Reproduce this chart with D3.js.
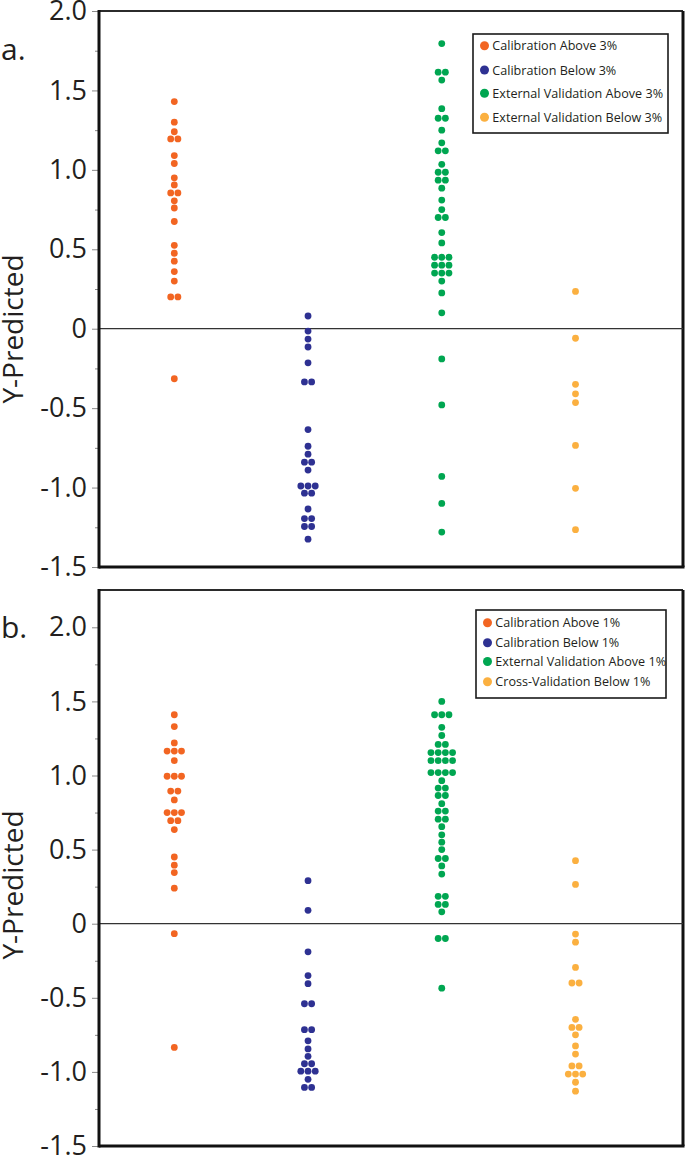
<!DOCTYPE html>
<html><head><meta charset="utf-8">
<script src="https://cdn.jsdelivr.net/npm/d3@7/dist/d3.min.js"></script>
<style>
body{margin:0;background:#fff}
text{font-family:"Open Sans","Noto Sans",sans-serif;fill:#231f20}
</style>
</head><body>
<svg id="chart" width="685" height="1157"></svg>
<script>
// ---------- data ----------
const categories = ["Calibration Above","Calibration Below","External Validation Above","Validation Below"];
const colors = ["#F26522","#2E3192","#00A651","#FBB040"];
const legendA = ["Calibration Above 3%","Calibration Below 3%","External Validation Above 3%","External Validation Below 3%"];
const legendB = ["Calibration Above 1%","Calibration Below 1%","External Validation Above 1%","Cross-Validation Below 1%"];
const tickValues = [2.0,1.5,1.0,0.5,0,-0.5,-1.0,-1.5];
const tickLabels = ["2.0","1.5","1.0","0.5","0","-0.5","-1.0","-1.5"];
const minorTicks = [1.75,1.25,0.75,0.25,-0.25,-0.75,-1.25];
const yTitle = "Y-Predicted";

// panel a (3% threshold)
const a_calAbove = [1.43,1.30,1.24,1.195,1.195,1.09,1.04,0.95,0.905,0.855,0.855,0.805,0.76,0.675,0.525,0.475,0.425,0.36,0.30,0.20,0.20,-0.315];
const a_calBelow = [0.08,-0.015,-0.065,-0.115,-0.215,-0.335,-0.335,-0.635,-0.74,-0.79,-0.84,-0.84,-0.89,-0.99,-0.99,-0.99,-1.035,-1.035,-1.135,-1.195,-1.195,-1.245,-1.245,-1.325];
const a_extAbove = [1.795,1.615,1.615,1.565,1.385,1.325,1.325,1.25,1.17,1.12,1.12,1.035,0.985,0.985,0.935,0.935,0.885,0.81,0.75,0.70,0.70,0.605,0.54,0.45,0.45,0.45,0.40,0.40,0.40,0.35,0.35,0.35,0.30,0.225,0.10,-0.19,-0.48,-0.93,-1.10,-1.28];
const a_extBelow = [0.235,-0.06,-0.35,-0.41,-0.465,-0.735,-1.005,-1.265];

// panel b (1% threshold)
const b_calAbove = [1.41,1.33,1.22,1.165,1.165,1.165,1.10,0.995,0.995,0.995,0.895,0.895,0.835,0.75,0.75,0.75,0.695,0.695,0.635,0.45,0.395,0.345,0.24,-0.067,-0.835];
const b_calBelow = [0.29,0.09,-0.19,-0.35,-0.405,-0.54,-0.54,-0.715,-0.715,-0.79,-0.845,-0.895,-0.945,-0.945,-0.995,-0.995,-0.995,-1.05,-1.105,-1.105];
const b_extAbove = [1.50,1.41,1.41,1.41,1.325,1.27,1.21,1.21,1.155,1.155,1.155,1.155,1.10,1.10,1.10,1.10,1.02,1.02,1.02,1.02,0.965,0.915,0.915,0.865,0.865,0.81,0.76,0.76,0.705,0.705,0.655,0.60,0.55,0.50,0.44,0.44,0.39,0.335,0.185,0.185,0.13,0.13,0.08,-0.10,-0.10,-0.435];
const b_cvBelow = [0.425,0.265,-0.07,-0.125,-0.295,-0.40,-0.40,-0.645,-0.70,-0.70,-0.75,-0.825,-0.88,-0.96,-0.96,-1.015,-1.015,-1.015,-1.07,-1.13];

// ---------- layout ----------
const svg = d3.select("#chart");
svg.append("rect").attr("width",685).attr("height",1157).attr("fill","#fff");

const xLeft = 99, xRight = 683;
const x = d3.scalePoint().domain(categories).range([174.3, 575.5]);
const R = 3.4, SP = 7.2;

const panels = [
  {label:"a.", labelY:60, series:[a_calAbove,a_calBelow,a_extAbove,a_extBelow], legend:legendA,
   yRange:[567,11], boxTop:11, titleY:329,
   legBox:[473,34,668,133], legRows:[45.7,70,93.3,117.3]},
  {label:"b.", labelY:638, series:[b_calAbove,b_calBelow,b_extAbove,b_cvBelow], legend:legendB,
   yRange:[1146,627.3], boxTop:590, titleY:885,
   legBox:[476,610,666,698], legRows:[622.7,642.7,661.5,681.7]}
];

panels.forEach(p => {
  const y = d3.scaleLinear().domain([-1.5,2.0]).range(p.yRange);
  const g = svg.append("g");
  const yBottom = y(-1.5);

  // frame: top & right
  g.append("line").attr("x1",xLeft).attr("x2",xRight).attr("y1",p.boxTop).attr("y2",p.boxTop)
    .attr("stroke","#2b2b2b").attr("stroke-width",2);
  g.append("line").attr("x1",xRight).attr("x2",xRight).attr("y1",p.boxTop).attr("y2",yBottom)
    .attr("stroke","#111").attr("stroke-width",3);
  // zero line
  g.append("line").attr("x1",xLeft).attr("x2",xRight).attr("y1",y(0)).attr("y2",y(0))
    .attr("stroke","#333").attr("stroke-width",1.3);

  // minor ticks
  const minor = g.append("g").attr("transform",`translate(${xLeft},0)`)
    .call(d3.axisLeft(y).tickValues(minorTicks).tickSize(4).tickFormat(""));
  minor.select(".domain").remove();
  minor.selectAll(".tick line").attr("stroke","#8a8a8a").attr("stroke-width",1);

  // major ticks + labels
  const major = g.append("g").attr("transform",`translate(${xLeft},0)`)
    .call(d3.axisLeft(y).tickValues(tickValues).tickSize(7).tickPadding(5)
      .tickFormat((d,i) => tickLabels[i]));
  major.select(".domain").remove();
  major.selectAll(".tick line").attr("stroke","#8a8a8a").attr("stroke-width",1);
  major.selectAll(".tick text").attr("font-size",27).attr("font-family","'Open Sans',sans-serif")
    .attr("fill","#231f20");

  // axis lines (left, bottom)
  g.append("line").attr("x1",xLeft).attr("x2",xLeft).attr("y1",p.boxTop-1).attr("y2",yBottom+1.5)
    .attr("stroke","#111").attr("stroke-width",3);
  g.append("line").attr("x1",xLeft).attr("x2",xRight+1.5).attr("y1",yBottom).attr("y2",yBottom)
    .attr("stroke","#111").attr("stroke-width",3);

  // y title
  g.append("text").attr("transform",`translate(23,${p.titleY}) rotate(-90)`)
    .attr("text-anchor","middle").attr("font-size",28).text(yTitle);
  // panel label
  g.append("text").attr("x",1).attr("y",p.labelY).attr("font-size",30).text(p.label);

  // dots (beeswarm rows: equal values spread horizontally)
  p.series.forEach((vals, si) => {
    const groups = d3.group(vals, v => v);
    const pts = [];
    groups.forEach((arr, v) => {
      arr.forEach((_, i) => pts.push({v, off:(i-(arr.length-1)/2)*SP}));
    });
    g.selectAll(null).data(pts).enter().append("circle")
      .attr("cx", d => x(categories[si]) + d.off)
      .attr("cy", d => y(d.v))
      .attr("r", R)
      .attr("fill", colors[si]);
  });

  // legend
  const [lx0,ly0,lx1,ly1] = p.legBox;
  const lg = g.append("g");
  lg.append("rect").attr("x",lx0).attr("y",ly0).attr("width",lx1-lx0).attr("height",ly1-ly0)
    .attr("fill","#fff").attr("stroke","#1a1a1a").attr("stroke-width",1.6);
  p.legend.forEach((t,i) => {
    lg.append("circle").attr("cx",lx0+11.5).attr("cy",p.legRows[i]).attr("r",4.5).attr("fill",colors[i]);
    lg.append("text").attr("x",lx0+19.3).attr("y",p.legRows[i]).attr("dy","0.36em")
      .attr("font-size",12.6).text(t);
  });
});
</script>
</body></html>
